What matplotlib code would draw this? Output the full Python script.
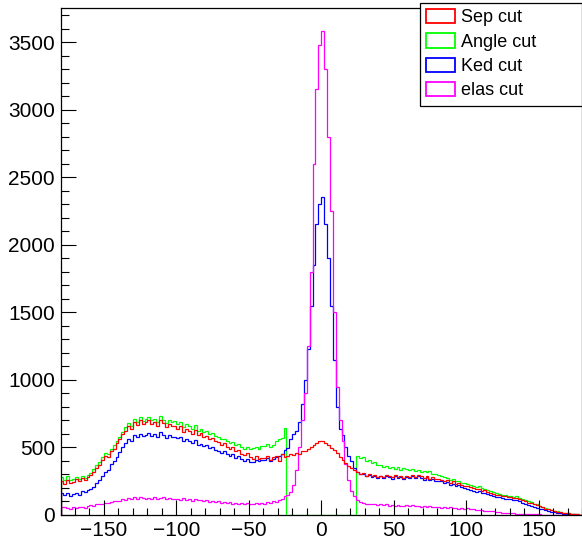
import numpy as np
import matplotlib
matplotlib.use("Agg")
import matplotlib.pyplot as plt
from matplotlib.patches import Patch
from matplotlib.ticker import MultipleLocator

plt.rcParams['font.family'] = ['Liberation Sans', 'DejaVu Sans']

# 2-unit bins from -180 to 180
edges = np.arange(-180, 182, 2)

sep_cut = [
    250, 228, 262, 236, 245, 268, 250, 275, 262, 282,
    295, 320, 350, 372, 410, 438, 430, 470, 492, 530,
    560, 598, 625, 660, 640, 690, 668, 700, 672, 690,
    705, 675, 690, 662, 700, 680, 650, 672, 655, 660,
    640, 655, 615, 640, 625, 600, 632, 590, 605, 578,
    585, 560, 570, 545, 538, 520, 530, 505, 490, 500,
    470, 482, 455, 445, 460, 430, 418, 440, 412, 425,
    420, 435, 410, 430, 438, 400, 450, 432, 440, 452,
    445, 460, 455, 475, 470, 490, 505, 520, 535, 548,
    545, 530, 520, 495, 480, 462, 430, 405, 382, 365,
    350, 335, 320, 305, 312, 292, 305, 285, 298, 282,
    292, 280, 298, 285, 278, 295, 282, 290, 276, 288,
    284, 295, 280, 298, 285, 275, 290, 270, 282, 265,
    268, 262, 250, 258, 240, 248, 232, 236, 222, 215,
    212, 205, 198, 190, 195, 178, 182, 170, 165, 158,
    150, 145, 140, 138, 130, 132, 125, 128, 115, 108,
    100, 92, 88, 80, 72, 65, 58, 48, 42, 35,
    30, 25, 22, 18, 14, 12, 8, 6, 5, 3,
]

angle_cut = [
    280, 262, 290, 258, 268, 282, 265, 290, 275, 298,
    310, 340, 372, 395, 430, 462, 455, 490, 515, 548,
    578, 612, 648, 680, 662, 712, 690, 722, 698, 712,
    728, 700, 712, 690, 735, 705, 682, 700, 688, 692,
    675, 690, 652, 672, 660, 640, 668, 622, 640, 615,
    620, 598, 605, 582, 575, 560, 565, 545, 530, 538,
    515, 522, 505, 490, 502, 488, 495, 505, 492, 508,
    510, 525, 505, 520, 545, 560, 570, 645, 0, 0,
    0, 0, 0, 0, 0, 0, 0, 0, 0, 0,
    0, 0, 0, 0, 0, 0, 0, 0, 0, 0,
    0, 0, 435, 420, 428, 398, 405, 385, 392, 372,
    368, 355, 362, 348, 358, 340, 352, 335, 345, 338,
    330, 342, 325, 335, 320, 328, 315, 322, 305, 300,
    295, 285, 280, 272, 262, 268, 255, 248, 240, 235,
    232, 225, 215, 208, 212, 198, 195, 188, 180, 172,
    160, 152, 148, 145, 140, 142, 135, 138, 128, 120,
    110, 100, 95, 85, 78, 70, 62, 52, 45, 38,
    32, 26, 22, 18, 15, 12, 9, 7, 5, 3,
]

ked_cut = [
    165, 150, 162, 140, 155, 160, 150, 175, 168, 185,
    190, 210, 235, 262, 290, 320, 335, 375, 400, 430,
    465, 500, 535, 560, 550, 590, 575, 600, 582, 595,
    610, 585, 600, 575, 612, 595, 570, 590, 575, 580,
    568, 580, 548, 562, 550, 530, 555, 515, 528, 510,
    515, 498, 502, 480, 475, 462, 470, 452, 440, 448,
    425, 435, 412, 402, 418, 395, 392, 405, 398, 410,
    405, 420, 398, 415, 428, 440, 452, 478, 498, 560,
    600, 620, 690, 820, 1000, 1230, 1550, 1850, 2150, 2300,
    2350, 2150, 1900, 1550, 1150, 800, 640, 590, 500, 440,
    400, 350, 320, 300, 305, 285, 298, 280, 292, 275,
    285, 272, 290, 278, 270, 285, 275, 282, 268, 280,
    275, 288, 272, 285, 275, 262, 280, 258, 270, 252,
    255, 248, 235, 244, 225, 232, 215, 220, 205, 198,
    195, 188, 180, 172, 178, 160, 165, 152, 148, 140,
    135, 130, 125, 120, 115, 118, 110, 112, 100, 92,
    82, 75, 70, 62, 55, 48, 42, 35, 30, 25,
    20, 16, 14, 10, 8, 6, 5, 4, 3, 2,
]

elas_cut = [
    62, 58, 55, 48, 60, 52, 58, 62, 55, 70,
    72, 68, 78, 85, 80, 92, 88, 95, 100, 105,
    102, 115, 110, 125, 118, 135, 122, 130, 125, 118,
    128, 120, 132, 118, 125, 135, 120, 128, 115, 122,
    118, 110, 125, 112, 120, 105, 115, 108, 112, 100,
    108, 98, 105, 95, 100, 92, 98, 88, 95, 85,
    90, 82, 88, 80, 92, 85, 78, 88, 82, 90,
    85, 95, 90, 100, 98, 110, 118, 140, 150, 170,
    220, 330, 500, 700, 900, 1250, 1800, 2600, 3150, 3480,
    3580, 3300, 2800, 2250, 1500, 950, 700, 550, 380, 260,
    180, 140, 110, 95, 88, 80, 85, 78, 82, 75,
    80, 72, 78, 70, 75, 68, 74, 70, 66, 72,
    68, 72, 65, 70, 62, 68, 60, 65, 58, 62,
    58, 55, 60, 52, 56, 50, 54, 48, 52, 46,
    50, 46, 44, 40, 38, 35, 32, 30, 28, 26,
    24, 20, 18, 16, 15, 14, 12, 11, 10, 9,
    8, 7, 6, 5, 5, 4, 3, 3, 2, 2,
    2, 2, 1, 1, 1, 1, 0, 0, 0, 0,
]

labels = ["Sep cut", "Angle cut", "Ked cut", "elas cut"]
colors = ["#ff0000", "#00ff00", "#0000ff", "#ff00ff"]

fig = plt.figure(figsize=(5.82, 5.43), dpi=100)
ax = fig.add_axes([60.5 / 582, 28 / 543, 521.5 / 582, 507 / 543])

hists = dict(zip(labels, [sep_cut, angle_cut, ked_cut, elas_cut]))
for name in ["Angle cut", "Ked cut", "elas cut", "Sep cut"]:
    c = colors[labels.index(name)]
    ax.stairs(hists[name], edges, color=c, lw=0.9)

ax.set_xlim(-180, 180)
ax.set_ylim(0, 3752)
ax.xaxis.set_major_locator(MultipleLocator(50))
ax.xaxis.set_minor_locator(MultipleLocator(10))
ax.yaxis.set_major_locator(MultipleLocator(500))
ax.yaxis.set_minor_locator(MultipleLocator(100))
ax.tick_params(which="both", direction="in", top=False, right=False,
               labelsize=15, width=0.8)
ax.tick_params(which="major", length=10.8)
ax.tick_params(which="minor", length=5.4)
ax.tick_params(axis="x", pad=4)
ax.tick_params(axis="y", pad=4)
for s in ax.spines.values():
    s.set_linewidth(0.9)

# legend boxes: empty rectangles outlined in the histogram colour
handles = [Patch(facecolor="white", edgecolor=c, linewidth=1.3) for c in colors]
leg = fig.legend(handles, labels, loc="upper left",
                 bbox_to_anchor=(420 / 582, 1 - 8 / 543, 162 / 582, 0.01),
                 mode="expand", fontsize=13, handlelength=1.6,
                 handleheight=0.85, handletextpad=0.3, labelspacing=0.38,
                 borderpad=0.35, borderaxespad=0, fancybox=False,
                 edgecolor="black", framealpha=1)
leg.get_frame().set_linewidth(0.9)

fig.savefig("out.png", dpi=100)
